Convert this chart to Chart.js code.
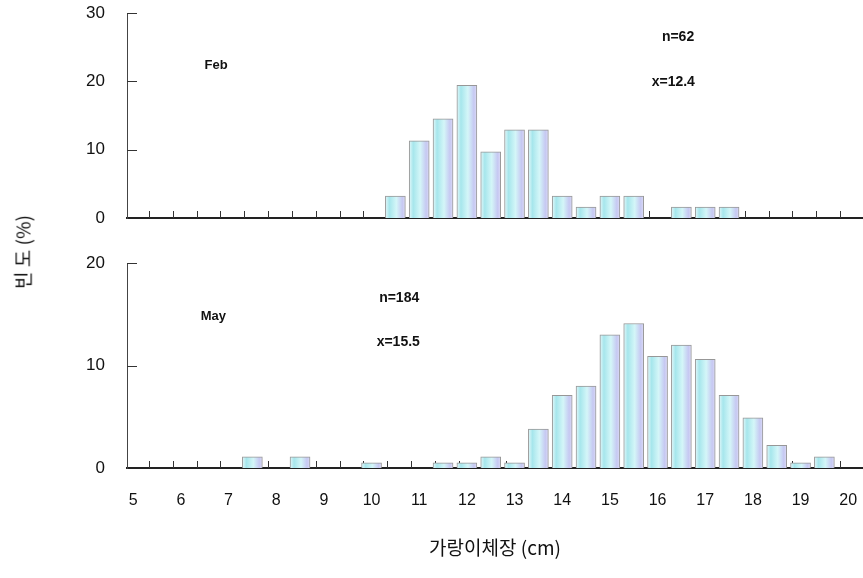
<!DOCTYPE html>
<html>
<head>
<meta charset="utf-8">
<script src="https://cdn.jsdelivr.net/npm/chart.js@4"></script>
<style>
  html, body { margin: 0; padding: 0; background: #fff; }
  #wrap { position: relative; width: 863px; height: 578px; overflow: hidden; }
  #topChart { position: absolute; left: 0; top: 0; }
  #bottomChart { position: absolute; left: 0; top: 240px; }
  #ytitle {
    position: absolute; left: 22px; top: 252px;
    transform: translate(-50%, -50%) rotate(-90deg);
    font: 19px "Noto Sans CJK KR"; color: #111; white-space: nowrap;
  }
</style>
</head>
<body>
<div id="wrap">
  <canvas id="topChart" width="863" height="240"></canvas>
  <canvas id="bottomChart" width="863" height="338"></canvas>
  <div id="ytitle">빈 도 (%)</div>
</div>
<script>
// 계급 (cm) 과 빈도 (%)
const febBins = [10.5, 11, 11.5, 12, 12.5, 13, 13.5, 14, 14.5, 15, 15.5, 16.5, 17, 17.5];
const febPct  = [3.2, 11.3, 14.5, 19.4, 9.7, 12.9, 12.9, 3.2, 1.6, 3.2, 3.2, 1.6, 1.6, 1.6];

const mayBins = [7.5, 8.5, 10, 11.5, 12, 12.5, 13, 13.5, 14, 14.5, 15, 15.5, 16, 16.5, 17, 17.5, 18, 18.5, 19, 19.5];
const mayPct  = [1.1, 1.1, 0.5, 0.5, 0.5, 1.1, 0.5, 3.8, 7.1, 8.0, 13.0, 14.1, 10.9, 12.0, 10.6, 7.1, 4.9, 2.2, 0.5, 1.1];

const xTicks = [5, 6, 7, 8, 9, 10, 11, 12, 13, 14, 15, 16, 17, 18, 19, 20];
const xMin = 4.87, xMax = 20.31;

const BAR_W = 20;

// 막대 색 (좌: 하늘색, 우: 연보라)
function barFill(c) {
  const chart = c.chart;
  const xs = chart.scales && chart.scales.x;
  if (!xs || !c.raw) return "#c4eff3";
  const cx = xs.getPixelForValue(c.raw.x);
  if (!isFinite(cx)) return "#c4eff3";
  const g = chart.ctx.createLinearGradient(cx - BAR_W / 2, 0, cx + BAR_W / 2, 0);
  g.addColorStop(0, "#e4f8fa");
  g.addColorStop(0.2, "#a6e6ec");
  g.addColorStop(0.55, "#d4f6f8");
  g.addColorStop(0.85, "#c6c8f2");
  g.addColorStop(1, "#dcdcf6");
  return g;
}

// 축 안쪽 눈금 + 글자
const marksPlugin = {
  id: "marks",
  beforeDatasetsDraw(chart) {
    const { ctx, scales: { x, y } } = chart;
    ctx.save();
    ctx.strokeStyle = "#333";
    ctx.lineWidth = 1;
    for (let v = 5.33; v < 20; v += 0.5) {
      const px = Math.round(x.getPixelForValue(v)) + 0.5;
      ctx.beginPath(); ctx.moveTo(px, y.bottom); ctx.lineTo(px, y.bottom - 7); ctx.stroke();
    }
    y.ticks.forEach(t => {
      if (t.value === 0) return;
      const py = Math.round(y.getPixelForValue(t.value)) + 0.5;
      ctx.beginPath(); ctx.moveTo(x.left, py); ctx.lineTo(x.left + 10, py); ctx.stroke();
    });
    ctx.restore();
  },
  afterDraw(chart, args, opts) {
    const { ctx, scales: { x, y } } = chart;
    ctx.save();
    ctx.fillStyle = "#111";
    ctx.textAlign = "center";
    ctx.textBaseline = "middle";
    (opts.notes || []).forEach(n => {
      ctx.font = n.font;
      ctx.fillText(n.text, x.getPixelForValue(n.x), y.getPixelForValue(n.y));
    });
    ctx.restore();
  }
};

function makeChart(id, bins, pct, yMax, bottomAxis, padTop, xHeight, notes) {
  const ctx = document.getElementById(id).getContext("2d");
  return new Chart(ctx, {
    type: "bar",
    data: {
      datasets: [{
        data: bins.map((b, i) => ({ x: b, y: pct[i] })),
        backgroundColor: barFill,
        borderColor: "#979797",
        borderWidth: 1,
        barThickness: BAR_W
      }]
    },
    options: {
      responsive: false,
      devicePixelRatio: 1,
      animation: false,
      layout: { padding: { top: padTop, right: 0, left: 0, bottom: 0 } },
      plugins: {
        legend: { display: false },
        tooltip: { enabled: false },
        marks: { notes: notes }
      },
      scales: {
        x: {
          type: "linear",
          min: xMin, max: xMax,
          offset: false,
          afterBuildTicks(a) { a.ticks = xTicks.map(v => ({ value: v })); },
          ticks: {
            display: bottomAxis,
            autoSkip: false, maxRotation: 0,
            padding: 23,
            color: "#111",
            font: { family: "Arial", size: 16 }
          },
          grid: { display: false, drawTicks: false },
          border: { display: true, color: "#222", width: 2 },
          title: {
            display: bottomAxis,
            text: "가랑이체장 (cm)",
            color: "#111",
            font: { family: "Noto Sans CJK KR", size: 19 },
            padding: { top: 0, bottom: 19 }
          },
          afterFit(a) { a.height = xHeight; a.paddingLeft = 0; a.paddingRight = 0; }
        },
        y: {
          min: 0, max: yMax,
          ticks: {
            stepSize: 10,
            padding: 22,
            color: "#111",
            font: { family: "Arial", size: 17 }
          },
          grid: { display: false, drawTicks: false },
          border: { display: true, color: "#444", width: 1 },
          afterFit(a) { a.width = 127; a.paddingTop = 0; a.paddingBottom = 0; }
        }
      }
    },
    plugins: [marksPlugin]
  });
}

makeChart("topChart", febBins, febPct, 30, false, 13, 22, [
  { text: "Feb", x: 6.74, y: 22.4, font: "bold 13px Arial" },
  { text: "n=62", x: 16.43, y: 26.5, font: "bold 14px Arial" },
  { text: "x=12.4", x: 16.33, y: 19.9, font: "bold 14px Arial" }
]);

makeChart("bottomChart", mayBins, mayPct, 20, true, 23, 110, [
  { text: "May", x: 6.68, y: 14.8, font: "bold 13px Arial" },
  { text: "n=184", x: 10.58, y: 16.6, font: "bold 14px Arial" },
  { text: "x=15.5", x: 10.56, y: 12.3, font: "bold 14px Arial" }
]);
</script>
</body>
</html>
